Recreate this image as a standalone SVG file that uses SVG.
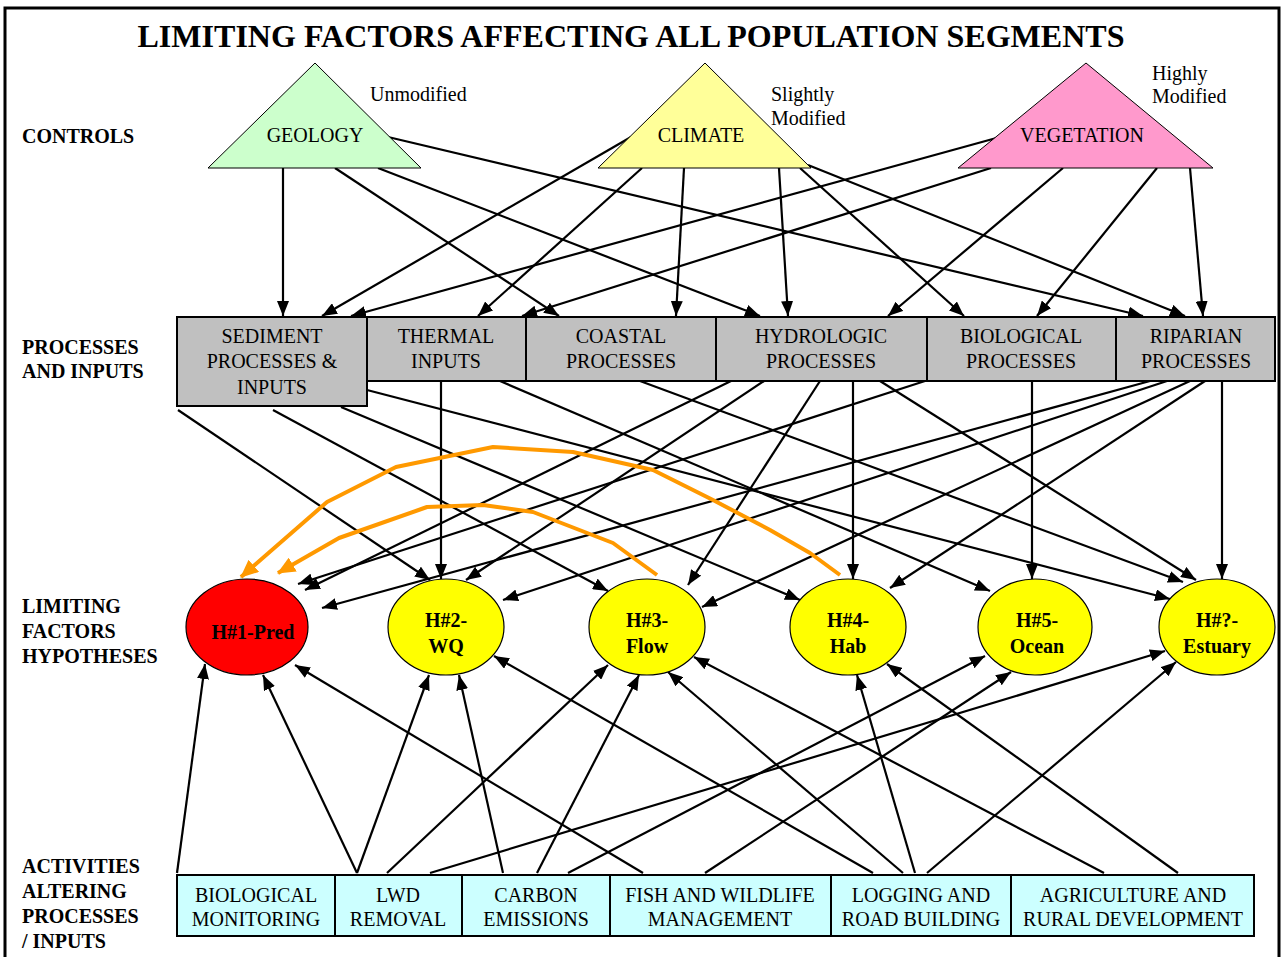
<svg xmlns="http://www.w3.org/2000/svg" width="1285" height="957" viewBox="0 0 1285 957">
  <defs>
    <marker id="arrow" markerUnits="userSpaceOnUse" markerWidth="15" markerHeight="12" refX="15" refY="6" orient="auto">
      <path d="M0,0 L15,6 L0,12 Z" fill="#000"/>
    </marker>
    <marker id="arrow-orange" markerUnits="userSpaceOnUse" markerWidth="18" markerHeight="16" refX="17" refY="8" orient="auto">
      <path d="M0,0 L18,8 L0,16 Z" fill="#FF9900"/>
    </marker>
    <style>
      text { font-family: "Liberation Serif", "Times New Roman", serif; fill: #000; }
      .title { font-size: 32px; font-weight: bold; }
      .side { font-size: 20px; font-weight: bold; }
      .lbl { font-size: 20px; text-anchor: middle; }
      .note { font-size: 20px; }
      .hyp { font-size: 20px; font-weight: bold; text-anchor: middle; }
      .proc { fill: #C0C0C0; stroke: #000; stroke-width: 2; }
      .act { fill: #CCFFFF; stroke: #000; stroke-width: 2; }
      .ctrl { stroke: #000; stroke-width: 1; }
      .ell { stroke: #000; stroke-width: 1.2; }
      .link { fill: none; stroke: #000; stroke-width: 2.2; marker-end: url(#arrow); }
      .feedback { fill: none; stroke: #FF9900; stroke-width: 4; stroke-linejoin: round; marker-end: url(#arrow-orange); }
    </style>
  </defs>

  <rect x="0" y="0" width="1285" height="957" fill="#fff"/>
  <!-- outer frame -->
  <rect x="5" y="8" width="1274" height="970" fill="none" stroke="#000" stroke-width="3"/>

  <text class="title" x="631" y="47" text-anchor="middle" textLength="987" lengthAdjust="spacingAndGlyphs">LIMITING FACTORS AFFECTING ALL POPULATION SEGMENTS</text>

  <!-- row captions -->
  <g id="row-labels">
    <text class="side" x="22" y="143">CONTROLS</text>
    <text class="side" x="22" y="354">PROCESSES</text>
    <text class="side" x="22" y="378">AND INPUTS</text>
    <text class="side" x="22" y="613">LIMITING</text>
    <text class="side" x="22" y="638">FACTORS</text>
    <text class="side" x="22" y="663">HYPOTHESES</text>
    <text class="side" x="22" y="873">ACTIVITIES</text>
    <text class="side" x="22" y="898">ALTERING</text>
    <text class="side" x="22" y="923">PROCESSES</text>
    <text class="side" x="22" y="948">/ INPUTS</text>
  </g>

  <!-- connectors (drawn under the nodes) -->
  <g id="connectors">
    <!-- controls to processes -->
    <line class="link" x1="283" y1="168" x2="283" y2="316"/>
    <line class="link" x1="335" y1="168" x2="559" y2="316"/>
    <line class="link" x1="378" y1="168" x2="760" y2="316"/>
    <line class="link" x1="388" y1="137" x2="1143" y2="316"/>
    <line class="link" x1="631" y1="137" x2="322" y2="316"/>
    <line class="link" x1="642" y1="168" x2="478" y2="316"/>
    <line class="link" x1="684" y1="168" x2="676" y2="316"/>
    <line class="link" x1="779" y1="168" x2="788" y2="316"/>
    <line class="link" x1="800" y1="168" x2="964" y2="316"/>
    <line class="link" x1="808" y1="165" x2="1185" y2="316"/>
    <line class="link" x1="1000" y1="137" x2="351" y2="316"/>
    <line class="link" x1="991" y1="168" x2="522" y2="316"/>
    <line class="link" x1="1063" y1="168" x2="888" y2="316"/>
    <line class="link" x1="1157" y1="168" x2="1037" y2="316"/>
    <line class="link" x1="1190" y1="168" x2="1203" y2="316"/>

    <!-- processes to hypotheses -->
    <line class="link" x1="178" y1="410" x2="430" y2="580"/>
    <line class="link" x1="273" y1="410" x2="608" y2="591"/>
    <line class="link" x1="341" y1="407" x2="800" y2="600"/>
    <line class="link" x1="367" y1="390" x2="1170" y2="599"/>
    <line class="link" x1="441" y1="381" x2="441" y2="579"/>
    <line class="link" x1="500" y1="381" x2="990" y2="591"/>
    <line class="link" x1="640" y1="381" x2="1183" y2="582"/>
    <line class="link" x1="731" y1="381" x2="305" y2="590"/>
    <line class="link" x1="764" y1="381" x2="466" y2="580"/>
    <line class="link" x1="820" y1="381" x2="688" y2="585"/>
    <line class="link" x1="853" y1="381" x2="853" y2="579"/>
    <line class="link" x1="880" y1="381" x2="1196" y2="580"/>
    <line class="link" x1="925" y1="381" x2="298" y2="584"/>
    <line class="link" x1="1032" y1="381" x2="1032" y2="579"/>
    <line class="link" x1="1150" y1="381" x2="322" y2="608"/>
    <line class="link" x1="1167" y1="381" x2="503" y2="600"/>
    <line class="link" x1="1190" y1="381" x2="702" y2="607"/>
    <line class="link" x1="1205" y1="381" x2="890" y2="588"/>
    <line class="link" x1="1222" y1="381" x2="1222" y2="579"/>

    <!-- feedback loops into predation -->
    <polyline class="feedback" points="840,575 810,553 770,530 713,500 653,470 573,452 493,447 396,467 327,502 241,577"/>
    <polyline class="feedback" points="657,575 613,543 533,512 483,505 427,507 339,538 278,573"/>

    <!-- activities to hypotheses -->
    <line class="link" x1="177" y1="873" x2="205" y2="664"/>
    <line class="link" x1="357" y1="873" x2="263" y2="675"/>
    <line class="link" x1="357" y1="873" x2="429" y2="675"/>
    <line class="link" x1="387" y1="873" x2="608" y2="665"/>
    <line class="link" x1="430" y1="873" x2="1165" y2="651"/>
    <line class="link" x1="503" y1="873" x2="459" y2="675"/>
    <line class="link" x1="537" y1="873" x2="639" y2="675"/>
    <line class="link" x1="568" y1="873" x2="985" y2="656"/>
    <line class="link" x1="643" y1="873" x2="295" y2="665"/>
    <line class="link" x1="705" y1="873" x2="1011" y2="672"/>
    <line class="link" x1="873" y1="873" x2="494" y2="656"/>
    <line class="link" x1="903" y1="873" x2="668" y2="672"/>
    <line class="link" x1="915" y1="873" x2="857" y2="675"/>
    <line class="link" x1="927" y1="873" x2="1176" y2="662"/>
    <line class="link" x1="1104" y1="873" x2="694" y2="657"/>
    <line class="link" x1="1178" y1="873" x2="887" y2="664"/>
  </g>

  <!-- controls -->
  <g id="geology">
    <polygon class="ctrl" points="315,63 208,168 421,168" fill="#CCFFCC"/>
    <text class="lbl" x="315" y="142">GEOLOGY</text>
    <text class="note" x="370" y="101">Unmodified</text>
  </g>
  <g id="climate">
    <polygon class="ctrl" points="705,63 598,168 811,168" fill="#FFFF99"/>
    <text class="lbl" x="701" y="142">CLIMATE</text>
    <text class="note" x="771" y="101">Slightly</text>
    <text class="note" x="771" y="125">Modified</text>
  </g>
  <g id="vegetation">
    <polygon class="ctrl" points="1086,63 958,168 1213,168" fill="#FF99CC"/>
    <text class="lbl" x="1082" y="142">VEGETATION</text>
    <text class="note" x="1152" y="80">Highly</text>
    <text class="note" x="1152" y="103">Modified</text>
  </g>

  <!-- processes and inputs -->
  <g id="sediment">
    <rect class="proc" x="177" y="317" width="190" height="89"/>
    <text class="lbl" x="272" y="343">SEDIMENT</text>
    <text class="lbl" x="272" y="368">PROCESSES &amp;</text>
    <text class="lbl" x="272" y="394">INPUTS</text>
  </g>
  <g id="thermal">
    <rect class="proc" x="367" y="317" width="159" height="64"/>
    <text class="lbl" x="446" y="343">THERMAL</text>
    <text class="lbl" x="446" y="368">INPUTS</text>
  </g>
  <g id="coastal">
    <rect class="proc" x="526" y="317" width="190" height="64"/>
    <text class="lbl" x="621" y="343">COASTAL</text>
    <text class="lbl" x="621" y="368">PROCESSES</text>
  </g>
  <g id="hydrologic">
    <rect class="proc" x="716" y="317" width="211" height="64"/>
    <text class="lbl" x="821" y="343">HYDROLOGIC</text>
    <text class="lbl" x="821" y="368">PROCESSES</text>
  </g>
  <g id="biological">
    <rect class="proc" x="927" y="317" width="189" height="64"/>
    <text class="lbl" x="1021" y="343">BIOLOGICAL</text>
    <text class="lbl" x="1021" y="368">PROCESSES</text>
  </g>
  <g id="riparian">
    <rect class="proc" x="1116" y="317" width="159" height="64"/>
    <text class="lbl" x="1196" y="343">RIPARIAN</text>
    <text class="lbl" x="1196" y="368">PROCESSES</text>
  </g>

  <!-- limiting factor hypotheses -->
  <g id="h1-pred">
    <ellipse class="ell" cx="247" cy="627" rx="61" ry="48" fill="#FF0000"/>
    <text class="hyp" x="253" y="639">H#1-Pred</text>
  </g>
  <g id="h2-wq">
    <ellipse class="ell" cx="446" cy="627" rx="58" ry="48" fill="#FFFF00"/>
    <text class="hyp" x="446" y="627">H#2-</text>
    <text class="hyp" x="446" y="653">WQ</text>
  </g>
  <g id="h3-flow">
    <ellipse class="ell" cx="647" cy="627" rx="58" ry="48" fill="#FFFF00"/>
    <text class="hyp" x="647" y="627">H#3-</text>
    <text class="hyp" x="647" y="653">Flow</text>
  </g>
  <g id="h4-hab">
    <ellipse class="ell" cx="848" cy="627" rx="58" ry="48" fill="#FFFF00"/>
    <text class="hyp" x="848" y="627">H#4-</text>
    <text class="hyp" x="848" y="653">Hab</text>
  </g>
  <g id="h5-ocean">
    <ellipse class="ell" cx="1035" cy="627" rx="57" ry="48" fill="#FFFF00"/>
    <text class="hyp" x="1037" y="627">H#5-</text>
    <text class="hyp" x="1037" y="653">Ocean</text>
  </g>
  <g id="h-estuary">
    <ellipse class="ell" cx="1217" cy="627" rx="58" ry="48" fill="#FFFF00"/>
    <text class="hyp" x="1217" y="627">H#?-</text>
    <text class="hyp" x="1217" y="653">Estuary</text>
  </g>

  <!-- activities altering processes / inputs -->
  <g id="biological-monitoring">
    <rect class="act" x="177" y="875" width="158" height="61"/>
    <text class="lbl" x="256" y="902">BIOLOGICAL</text>
    <text class="lbl" x="256" y="926">MONITORING</text>
  </g>
  <g id="lwd-removal">
    <rect class="act" x="335" y="875" width="127" height="61"/>
    <text class="lbl" x="398" y="902">LWD</text>
    <text class="lbl" x="398" y="926">REMOVAL</text>
  </g>
  <g id="carbon-emissions">
    <rect class="act" x="462" y="875" width="148" height="61"/>
    <text class="lbl" x="536" y="902">CARBON</text>
    <text class="lbl" x="536" y="926">EMISSIONS</text>
  </g>
  <g id="fish-wildlife">
    <rect class="act" x="610" y="875" width="221" height="61"/>
    <text class="lbl" x="720" y="902">FISH AND WILDLIFE</text>
    <text class="lbl" x="720" y="926">MANAGEMENT</text>
  </g>
  <g id="logging-roads">
    <rect class="act" x="831" y="875" width="180" height="61"/>
    <text class="lbl" x="921" y="902">LOGGING AND</text>
    <text class="lbl" x="921" y="926">ROAD BUILDING</text>
  </g>
  <g id="agriculture-rural">
    <rect class="act" x="1011" y="875" width="243" height="61"/>
    <text class="lbl" x="1133" y="902">AGRICULTURE AND</text>
    <text class="lbl" x="1133" y="926">RURAL DEVELOPMENT</text>
  </g>
</svg>
